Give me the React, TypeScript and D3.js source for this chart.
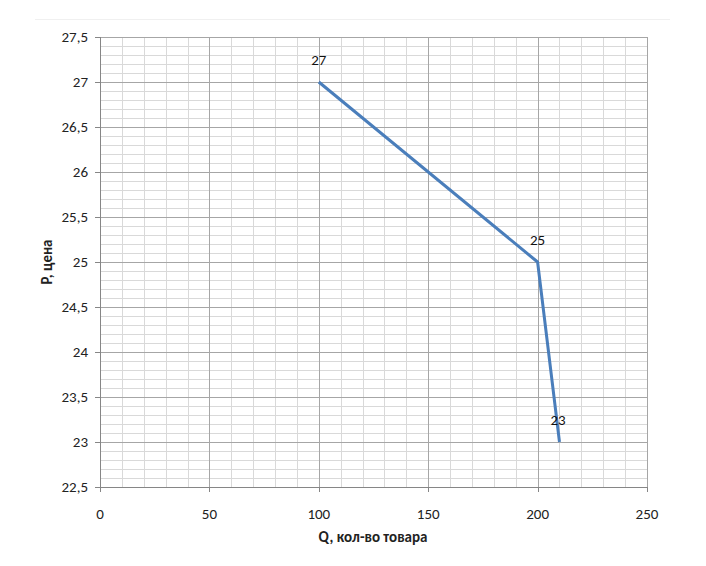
import React from "react";
import * as d3 from "d3";

const quantities = [100, 200, 210];
const prices = [27, 25, 23];
const pointLabels = ["27", "25", "23"];
const xTicks = [0, 50, 100, 150, 200, 250];
const yTicks = [22.5, 23, 23.5, 24, 24.5, 25, 25.5, 26, 26.5, 27, 27.5];
const xTitle = "Q, кол-во товара";
const yTitle = "P, цена";

const W = 706;
const H = 566;
const left = 100;
const right = 647;
const top = 37;
const bottom = 487;

export default function App() {
  const x = d3.scaleLinear().domain([0, 250]).range([left, right]);
  const y = d3.scaleLinear().domain([22.5, 27.5]).range([bottom, top]);
  const xMinor = d3.range(0, 251, 10);
  const yMinor = d3.range(225, 276, 1).map((v) => v / 10);
  const data = quantities.map((q, i) => ({ q, p: prices[i], label: pointLabels[i] }));
  const line = d3
    .line<{ q: number; p: number }>()
    .x((d) => x(d.q))
    .y((d) => y(d.p));
  const font = "Carlito, Lato, 'Open Sans', sans-serif";
  const fmt = (v: number) => String(v).replace(".", ",");

  return (
    <svg
      width={W}
      height={H}
      style={{ position: "absolute", left: 0, top: 0, display: "block", background: "#fff" }}
      fontFamily={font}
    >
      <line x1={35} x2={670} y1={19.5} y2={19.5} stroke="#f0f0f0" strokeWidth={1} />
      {xMinor.map((v) => (
        <line key={"xm" + v} x1={Math.round(x(v)) + 0.5} x2={Math.round(x(v)) + 0.5} y1={top} y2={bottom} stroke="#d9d9d9" />
      ))}
      {yMinor.map((v) => (
        <line key={"ym" + v} x1={left} x2={right} y1={Math.round(y(v)) + 0.5} y2={Math.round(y(v)) + 0.5} stroke="#d9d9d9" />
      ))}
      {xTicks.map((v) => (
        <line key={"xM" + v} x1={Math.round(x(v)) + 0.5} x2={Math.round(x(v)) + 0.5} y1={top} y2={bottom} stroke="#a6a6a6" />
      ))}
      {yTicks.map((v) => (
        <line key={"yM" + v} x1={left} x2={right} y1={Math.round(y(v)) + 0.5} y2={Math.round(y(v)) + 0.5} stroke="#a6a6a6" />
      ))}
      <line x1={left + 0.5} x2={left + 0.5} y1={top} y2={bottom + 0.5} stroke="#868686" />
      <line x1={left} x2={right} y1={bottom + 0.5} y2={bottom + 0.5} stroke="#868686" />
      {yTicks.map((v) => (
        <g key={"yt" + v}>
          <line x1={left - 5} x2={left} y1={Math.round(y(v)) + 0.5} y2={Math.round(y(v)) + 0.5} stroke="#868686" />
          <text x={88} y={y(v)} dy="0.35em" textAnchor="end" fontSize={15} fill="#222">
            {fmt(v)}
          </text>
        </g>
      ))}
      {xTicks.map((v) => (
        <g key={"xt" + v}>
          <line x1={Math.round(x(v)) + 0.5} x2={Math.round(x(v)) + 0.5} y1={bottom} y2={bottom + 5} stroke="#868686" />
          <text x={x(v)} y={514} dy="0.35em" textAnchor="middle" fontSize={15} fill="#222">
            {fmt(v)}
          </text>
        </g>
      ))}
      <path d={line(data) || ""} fill="none" stroke="#4a7ebb" strokeWidth={3} strokeLinejoin="round" />
      {data.map((d, i) => (
        <text key={"pl" + i} x={x(d.q)} y={y(d.p) - 22} dy="0.35em" textAnchor={i === 2 ? "start" : "middle"} dx={i === 2 ? -9 : 0} fontSize={15} fill="#111">
          {d.label}
        </text>
      ))}
      <text x={373} y={537} dy="0.35em" textAnchor="middle" fontSize={15} fontWeight="bold" fill="#222">
        {xTitle}
      </text>
      <text
        transform={`translate(47, ${y(25)}) rotate(-90)`}
        dy="0.35em"
        textAnchor="middle"
        fontSize={15}
        fontWeight="bold"
        fill="#222"
      >
        {yTitle}
      </text>
    </svg>
  );
}
